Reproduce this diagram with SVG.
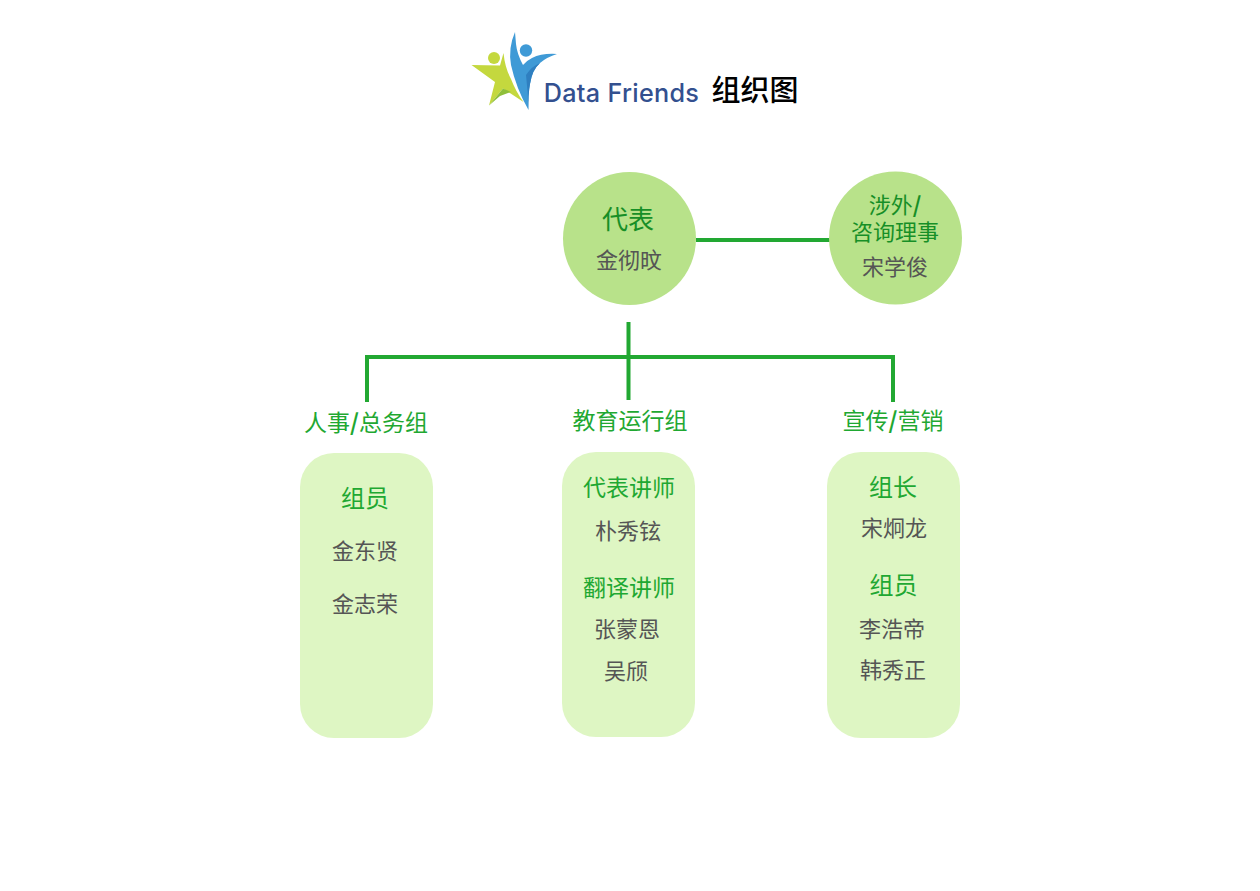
<svg xmlns="http://www.w3.org/2000/svg" width="1260" height="891" viewBox="0 0 1260 891">
<style>
text{font-family:"Noto Sans CJK SC","Noto Sans",sans-serif;text-anchor:middle}
.h{fill:#1fa832;font-size:23px}
.k{font-size:24px}
.t{fill:#178f27}
.n{fill:#555;font-size:22px}
.c{fill:#b8e28a}
.b{fill:#def6c3}
.l{stroke:#22a832;fill:none;stroke-width:4}
.s{font-weight:700}
</style>
<rect width="1260" height="891" fill="#fff"/>
<g id="logo">
<path fill="#c4d83e" d="M471.500 65L500 65.500L503.500 53Q505 68 511 79Q516 92 523.500 102L503 88.500L489 105.500L495 82Z"/>
<path fill="#8fbf3a" d="M489 105.500L503 88.500L511 92L500 96Z"/>
<circle cx="494" cy="58" r="6" fill="#c4d83e"/>
<path fill="#3f9ad6" d="M515 32Q508 48 511 65Q516 88 528.500 110Q528 94 530 84Q532 70 540 63Q547 57 557 54Q542 53 532 58Q526 61 523 65Q517 54 516 44Z"/>
<path fill="#2f7fc0" d="M528.500 110Q528 94 530 84Q532 70 540 63Q532 66 526 75Q528 92 528.500 110Z"/>
<circle cx="526" cy="50.500" r="6.200" fill="#3f9ad6"/>
<text x="621.500" y="102" style="font-family:'Inter','Liberation Sans',sans-serif;font-size:25.200px;font-weight:500;letter-spacing:.3px" fill="#33508f">Data Friends</text>
</g>
<text id="title" x="755" y="101" style="font-size:29px;font-weight:500" fill="#000">组织图</text>
<g id="connectors">
<path class="l" d="M696 240H830"/>
<path class="l" d="M628.500 322V400M367 402V357H893V402"/>
</g>
<g id="node-rep"><circle class="c" cx="629.500" cy="238.500" r="66.500"/>
<text class="t" x="628" y="229" style="font-size:26px">代表</text>
<text class="n" x="629" y="268">金彻旼</text></g>
<g id="node-advisor"><circle class="c" cx="895.500" cy="238" r="66.500"/>
<text class="t" style="font-size:22px"><tspan x="895" y="213">涉外<tspan class="s">/</tspan></tspan><tspan x="895" y="240">咨询理事</tspan></text>
<text class="n" x="895" y="275">宋学俊</text></g>
<g id="node-hr"><text class="h" x="366" y="431">人事<tspan class="s">/</tspan>总务组</text>
<rect class="b" x="300" y="453" width="133" height="285" rx="34"/>
<text class="h k" x="365" y="507">组员</text>
<text class="n" x="365" y="559">金东贤</text>
<text class="n" x="365" y="612">金志荣</text></g>
<g id="node-edu"><text class="h" x="630" y="429">教育运行组</text>
<rect class="b" x="562" y="452" width="133" height="285" rx="34"/>
<text class="h" x="629" y="496">代表讲师</text>
<text class="n" x="628" y="539">朴秀铉</text>
<text class="h" x="629" y="596">翻译讲师</text>
<text class="n" x="627" y="637">张蒙恩</text>
<text class="n" x="626" y="679">吴颀</text></g>
<g id="node-pr"><text class="h" x="893" y="429">宣传<tspan class="s">/</tspan>营销</text>
<rect class="b" x="827" y="452" width="133" height="286" rx="34"/>
<text class="h k" x="893" y="496">组长</text>
<text class="n" x="894" y="536">宋炯龙</text>
<text class="h k" x="893.500" y="594">组员</text>
<text class="n" x="892" y="637">李浩帝</text>
<text class="n" x="893" y="678">韩秀正</text></g>
</svg>
